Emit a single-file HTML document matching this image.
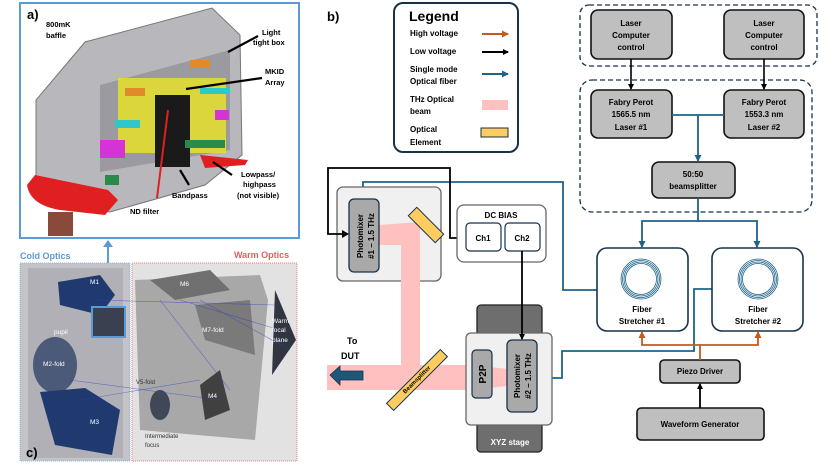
<!DOCTYPE html>
<html><head><meta charset="utf-8"><style>
html,body{margin:0;padding:0;background:#fff;}
svg{display:block;font-family:"Liberation Sans",sans-serif;font-weight:bold;}
</style></head><body>
<svg width="830" height="467" viewBox="0 0 830 467" xmlns="http://www.w3.org/2000/svg">
<defs>
<marker id="ab" markerWidth="6" markerHeight="6" refX="5" refY="3" orient="auto" markerUnits="userSpaceOnUse"><path d="M0,0 L6,3 L0,6z" fill="#000"/></marker>
<marker id="abl" markerWidth="7" markerHeight="7" refX="6" refY="3.5" orient="auto" markerUnits="userSpaceOnUse"><path d="M0,0 L7,3.5 L0,7z" fill="#1e6388"/></marker>
<marker id="aor" markerWidth="7" markerHeight="7" refX="6" refY="3.5" orient="auto" markerUnits="userSpaceOnUse"><path d="M0,0 L7,3.5 L0,7z" fill="#c55a1c"/></marker>
</defs>

<!-- Panel a -->
<rect x="20" y="3" width="279" height="235" fill="#fff" stroke="#5b9bd5" stroke-width="2"/>
<path d="M36,200 L36,100 L85,42 L212,8 L240,35 L242,155 L205,185 L110,212 Z" fill="#b8b8bc" stroke="#777" stroke-width="1"/>
<path d="M100,85 L230,50 L230,150 L100,172 Z" fill="#9a9aa0"/>
<rect x="118" y="78" width="108" height="75" fill="#e6e02a" opacity="0.85"/>
<rect x="155" y="95" width="35" height="72" fill="#1a1a1a"/>
<rect x="125" y="88" width="20" height="8" fill="#e08a2a"/>
<rect x="190" y="60" width="20" height="8" fill="#e08a2a"/>
<rect x="115" y="120" width="25" height="8" fill="#2fc7c7"/>
<rect x="200" y="88" width="30" height="6" fill="#2fc7c7"/>
<rect x="100" y="140" width="25" height="18" fill="#d633d6"/>
<rect x="215" y="110" width="14" height="10" fill="#d633d6"/>
<rect x="185" y="140" width="40" height="8" fill="#2a8a4a"/>
<rect x="105" y="175" width="14" height="10" fill="#2a8a4a"/>
<path d="M27,185 Q30,205 60,210 L105,215 L118,200 L108,190 L35,175 Z" fill="#e02020"/>
<path d="M200,155 L248,160 L245,165 L205,168 Z" fill="#e02020"/>
<rect x="48" y="212" width="25" height="24" fill="#8a4a3a"/>
<text x="27" y="19" font-size="13">a)</text>
<text x="46" y="27" font-size="7.5">800mK</text><text x="46" y="38" font-size="7.5">baffle</text>
<text x="262" y="35" font-size="7.5">Light</text><text x="253" y="45" font-size="7.5">tight box</text>
<text x="265" y="74" font-size="7.5">MKID</text><text x="265" y="85" font-size="7.5">Array</text>
<text x="241" y="177" font-size="7.5">Lowpass/</text><text x="243" y="187" font-size="7.5">highpass</text><text x="237" y="198" font-size="7.5">(not visible)</text>
<text x="172" y="198" font-size="7.5">Bandpass</text>
<text x="130" y="214" font-size="7.5">ND filter</text>
<g stroke="#000" stroke-width="2.2"><line x1="258" y1="36" x2="228" y2="52"/><line x1="262" y1="78" x2="186" y2="89"/><line x1="232" y1="175" x2="213" y2="162"/><line x1="189" y1="185" x2="180" y2="170"/></g>
<line x1="157" y1="198" x2="168" y2="110" stroke="#e02020" stroke-width="2"/>
<!-- Panel c -->
<line x1="108" y1="272" x2="108" y2="242" stroke="#5b9bd5" stroke-width="2"/>
<path d="M103,247 L108,240 L113,247Z" fill="#5b9bd5"/>
<text x="20" y="259" font-size="9" fill="#5b9bd5">Cold Optics</text>
<text x="234" y="258" font-size="9" fill="#e06060">Warm Optics</text>
<rect x="20" y="263" width="110" height="198" fill="#c4c4c8" stroke="#8ab8e0" stroke-dasharray="1,1"/>
<rect x="132" y="263" width="165" height="198" fill="#e2e2e2" stroke="#e08080" stroke-dasharray="1,1"/>
<rect x="28" y="268" width="95" height="190" fill="#b0b0b6"/>
<path d="M58,282 L100,275 L115,295 L100,315 L60,305 Z" fill="#203a70"/>
<ellipse cx="55" cy="365" rx="22" ry="28" fill="#4a5a78"/>
<path d="M40,392 L85,388 L120,410 L112,455 L55,445 Z" fill="#203a70"/>
<rect x="92" y="307" width="33" height="30" fill="#3a4050" stroke="#5b9bd5" stroke-width="2"/>
<path d="M135,280 L260,275 L268,300 L255,440 L140,430 Z" fill="#a8a8a8"/>
<path d="M150,280 L210,270 L230,290 L175,300 Z" fill="#707070"/>
<path d="M195,305 L250,300 L255,355 L205,340 Z" fill="#7a7a7a"/>
<path d="M275,290 L296,340 L272,375 Z" fill="#303540"/>
<path d="M200,385 L220,370 L230,410 L205,420 Z" fill="#404040"/>
<ellipse cx="160" cy="405" rx="10" ry="15" fill="#404858"/>
<g stroke="#3040c0" stroke-width="0.6" opacity="0.6"><line x1="95" y1="300" x2="275" y2="305"/><line x1="70" y1="380" x2="220" y2="400"/><line x1="160" y1="300" x2="230" y2="390"/><line x1="200" y1="300" x2="290" y2="350"/><line x1="180" y1="300" x2="280" y2="330"/><line x1="80" y1="400" x2="200" y2="380"/></g>
<g font-size="6.5" fill="#fff" font-weight="normal"><text x="90" y="284">M1</text><text x="180" y="286">M6</text><text x="43" y="366">M2-fold</text><text x="90" y="424">M3</text><text x="202" y="332">M7-fold</text><text x="272" y="323">Warm</text><text x="272" y="332">focal</text><text x="272" y="342">plane</text><text x="208" y="398">M4</text><text x="54" y="334">pupil</text></g>
<g font-size="6" fill="#333" font-weight="normal"><text x="136" y="384">V5-fold</text><text x="145" y="438">Intermediate</text><text x="145" y="447">focus</text></g>
<text x="26" y="457" font-size="13">c)</text>

<!-- Panel b -->
<text x="327" y="21" font-size="13">b)</text>
<rect x="394" y="3" width="124" height="149" rx="9" fill="#fff" stroke="#17324a" stroke-width="2"/>
<text x="409" y="21" font-size="14">Legend</text>
<g font-size="8"><text x="410" y="36">High voltage</text><text x="410" y="54">Low voltage</text><text x="410" y="72">Single mode</text><text x="410" y="84">Optical fiber</text><text x="410" y="102">THz Optical</text><text x="410" y="114">beam</text><text x="410" y="132">Optical</text><text x="410" y="145">Element</text></g>
<line x1="482" y1="34" x2="508" y2="34" stroke="#c55a1c" stroke-width="2" marker-end="url(#aor)"/>
<line x1="482" y1="52" x2="508" y2="52" stroke="#000" stroke-width="2" marker-end="url(#ab)"/>
<line x1="482" y1="74" x2="508" y2="74" stroke="#1e6388" stroke-width="2" marker-end="url(#abl)"/>
<rect x="482" y="100" width="26" height="10" fill="#ffc0c0"/>
<rect x="481" y="128" width="27" height="9" fill="#ffcc60" stroke="#17324a" stroke-width="1"/>
<rect x="580" y="5" width="237" height="61" rx="9" fill="none" stroke="#17324a" stroke-width="1.3" stroke-dasharray="5,3"/>
<rect x="580" y="80" width="232" height="132" rx="12" fill="none" stroke="#17324a" stroke-width="1.3" stroke-dasharray="5,3"/>
<g fill="#bfbfbf" stroke="#111" stroke-width="1.6">
<rect x="591" y="10" width="81" height="49" rx="7"/><rect x="724" y="10" width="80" height="49" rx="7"/>
<rect x="591" y="90" width="81" height="48" rx="7"/><rect x="724" y="90" width="80" height="48" rx="7"/>
<rect x="652" y="162" width="83" height="36" rx="7"/>
<rect x="660" y="360" width="80" height="23" rx="4"/>
<rect x="637" y="408" width="127" height="32" rx="4"/>
</g>
<g font-size="8" text-anchor="middle">
<text x="631" y="26">Laser</text><text x="631" y="38">Computer</text><text x="631" y="50">control</text>
<text x="764" y="26">Laser</text><text x="764" y="38">Computer</text><text x="764" y="50">control</text>
<text x="631" y="105">Fabry Perot</text><text x="631" y="117">1565.5 nm</text><text x="631" y="130">Laser #1</text>
<text x="764" y="105">Fabry Perot</text><text x="764" y="117">1553.3 nm</text><text x="764" y="130">Laser #2</text>
<text x="693" y="177">50:50</text><text x="693" y="189">beamsplitter</text>
<text x="700" y="374">Piezo Driver</text>
<text x="700" y="427">Waveform Generator</text>
</g>
<line x1="631" y1="59" x2="631" y2="89" stroke="#000" stroke-width="1.6" marker-end="url(#ab)"/>
<line x1="764" y1="59" x2="764" y2="89" stroke="#000" stroke-width="1.6" marker-end="url(#ab)"/>
<g fill="none" stroke="#1e6388" stroke-width="1.8">
<line x1="672" y1="115" x2="724" y2="115"/>
<line x1="698" y1="115" x2="698" y2="161" marker-end="url(#abl)"/>
<polyline points="698,198 698,221 642,221 642,247" marker-end="url(#abl)"/>
<polyline points="698,221 757,221 757,247" marker-end="url(#abl)"/>
<polyline points="597,290 563,290 563,182 363,182 363,198" marker-end="url(#abl)"/>
<polyline points="712,289 694,289 694,351 562,351 562,378 538,378" marker-end="url(#abl)"/>
</g>
<g fill="#fff" stroke="#17324a" stroke-width="1.6">
<rect x="597" y="248" width="91" height="83" rx="10"/><rect x="712" y="248" width="91" height="83" rx="10"/>
</g>
<g fill="none" stroke="#1e6388" stroke-width="0.8">
<circle cx="641" cy="279" r="20"/><circle cx="641" cy="279" r="18.5"/><circle cx="641" cy="279" r="17"/><circle cx="641" cy="279" r="15.5"/>
<circle cx="758" cy="279" r="20"/><circle cx="758" cy="279" r="18.5"/><circle cx="758" cy="279" r="17"/><circle cx="758" cy="279" r="15.5"/>
</g>
<g font-size="8" text-anchor="middle"><text x="642" y="312">Fiber</text><text x="642" y="324">Stretcher #1</text><text x="758" y="312">Fiber</text><text x="758" y="324">Stretcher #2</text></g>
<g fill="none" stroke="#c55a1c" stroke-width="1.8">
<polyline points="700,360 700,345 642,345 642,332" marker-end="url(#aor)"/>
<polyline points="700,345 758,345 758,332" marker-end="url(#aor)"/>
</g>
<line x1="700" y1="408" x2="700" y2="384" stroke="#000" stroke-width="1.8" marker-end="url(#ab)"/>
<rect x="337" y="187" width="104" height="94" rx="6" fill="#f0f0f0" stroke="#666" stroke-width="1.3"/>
<path d="M379,225 L420,222 L420,375 L401,375 L401,245 L379,245 Z" fill="#ffc0c0"/>
<rect x="327" y="365" width="190" height="25" fill="#ffc0c0"/>
<rect x="349" y="199" width="30" height="73" rx="5" fill="#a9a9a9" stroke="#17324a" stroke-width="1.3"/>
<text transform="translate(363,236) rotate(-90)" font-size="8" text-anchor="middle">Photomixer</text>
<text transform="translate(374,236) rotate(-90)" font-size="8" text-anchor="middle">#1 – 1.5 THz</text>
<rect x="407" y="219" width="38" height="12" fill="#ffcc60" stroke="#17324a" stroke-width="1" transform="rotate(45 426 225)"/>
<polyline points="343,234 328,234 328,168 450,168 450,238 466,238" fill="none" stroke="#000" stroke-width="1.8"/>
<path d="M342,230 L349,234 L342,238Z" fill="#000"/>
<rect x="457" y="205" width="89" height="57" rx="7" fill="#fff" stroke="#666" stroke-width="1.3"/>
<text x="501" y="218" font-size="8" text-anchor="middle">DC BIAS</text>
<rect x="466" y="223" width="35" height="28" rx="4" fill="#fff" stroke="#17324a" stroke-width="1.2"/>
<rect x="505" y="223" width="35" height="28" rx="4" fill="#fff" stroke="#17324a" stroke-width="1.2"/>
<text x="483" y="241" font-size="8" text-anchor="middle">Ch1</text><text x="522" y="241" font-size="8" text-anchor="middle">Ch2</text>
<rect x="477" y="305" width="65" height="147" rx="4" fill="#6e6e6e" stroke="#222" stroke-width="1.3"/>
<text x="510" y="445" font-size="8" fill="#fff" text-anchor="middle">XYZ stage</text>
<rect x="466" y="333" width="86" height="92" rx="5" fill="#f0f0f0" stroke="#666" stroke-width="1.3"/>
<path d="M472,365 L517,370 L517,385 L472,390Z" fill="#ffc0c0"/>
<rect x="472" y="350" width="20" height="48" rx="4" fill="#a9a9a9" stroke="#17324a" stroke-width="1.2"/>
<text transform="translate(486,374) rotate(-90)" font-size="10" text-anchor="middle">P2P</text>
<rect x="507" y="340" width="30" height="72" rx="5" fill="#a9a9a9" stroke="#17324a" stroke-width="1.3"/>
<text transform="translate(520,376) rotate(-90)" font-size="8" text-anchor="middle">Photomixer</text>
<text transform="translate(531,376) rotate(-90)" font-size="8" text-anchor="middle">#2 – 1.5 THz</text>
<line x1="522" y1="251" x2="522" y2="339" stroke="#000" stroke-width="1.8" marker-end="url(#ab)"/>
<rect x="379" y="375" width="76" height="10" fill="#ffcc60" stroke="#17324a" stroke-width="1" transform="rotate(-45 417 380)"/>
<text transform="translate(418,381) rotate(-45)" font-size="6" text-anchor="middle">Beamsplitter</text>
<text x="347" y="344" font-size="9">To</text><text x="341" y="359" font-size="9">DUT</text>
<path d="M330,375 L340,366 L340,371 L363,371 L363,380 L340,380 L340,385 Z" fill="#1e5878" stroke="#17324a" stroke-width="0.8"/>
</svg>
</body></html>
